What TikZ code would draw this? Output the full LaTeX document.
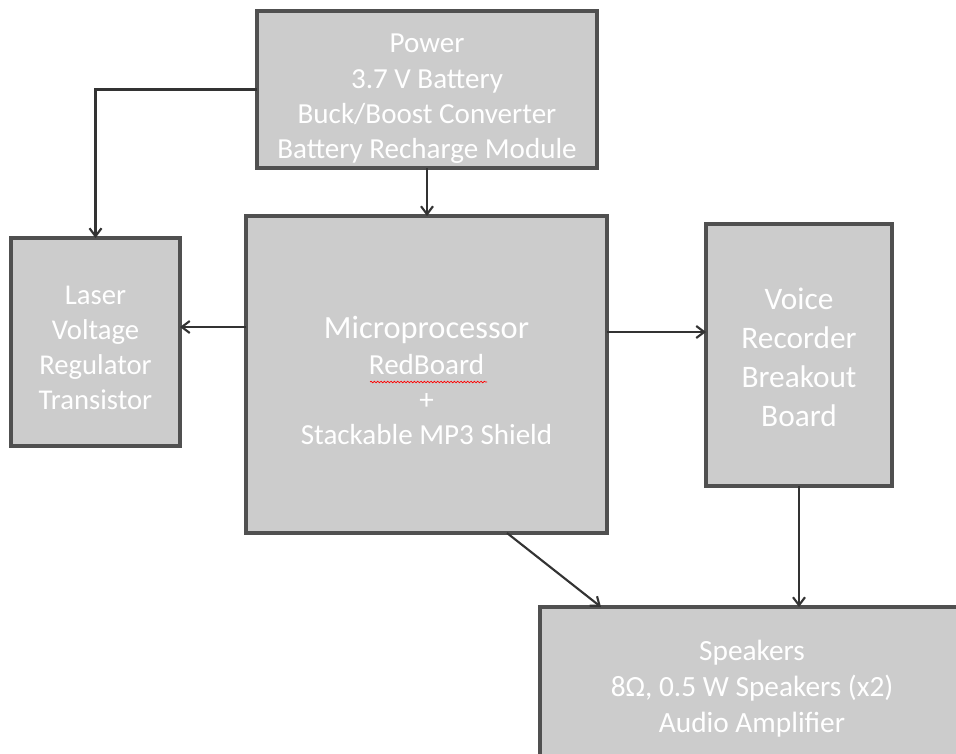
\documentclass[tikz,border=0pt]{standalone}
\usepackage{fontspec}
\setmainfont{Carlito}
\usetikzlibrary{arrows.meta,decorations.pathmorphing}
\definecolor{boxfill}{HTML}{CCCCCC}
\definecolor{boxline}{HTML}{505050}
\definecolor{wire}{HTML}{333333}
% invisible strut that lowers a block's text a little
\newcommand\topstrut[1]{\rule{0pt}{#1}}
\begin{document}
\begin{tikzpicture}[x=0.75pt,y=-0.75pt,
  block/.style={draw=boxline, fill=boxfill, line width=2.3pt, inner sep=0pt,
    outer sep=0pt, align=center, text=white},
  conn/.style={draw=wire, line width=1.6pt, -{Straight Barb[length=6pt,width=9pt,line width=1.6pt]}},
  txt/.style={font=\fontsize{21.8}{26.5}\selectfont},
  bigtxt/.style={font=\fontsize{23.5}{29.3}\selectfont}]
\clip (0,0) rectangle (956,753);
\useasboundingbox (0,0) rectangle (956,753);

\node[block, txt, minimum width=255pt, minimum height=117.75pt] (power) at (427,89.5)
  {\topstrut{28pt}Power\\3.7 V Battery\\Buck/Boost Converter\\Battery Recharge Module};
\node[block, txt, minimum width=270.75pt, minimum height=237.75pt] (micro) at (426.5,374.5)
  {\topstrut{26pt}{\fontsize{24.3}{26.5}\selectfont Microprocessor}\\RedBoard\\+\\Stackable MP3 Shield};
\node[block, font=\fontsize{21.5}{26.3}\selectfont, minimum width=126.75pt, minimum height=156pt] (laser) at (95.5,342)
  {\topstrut{23pt}Laser\\Voltage\\Regulator\\Transistor};
\node[block, bigtxt, minimum width=139.5pt, minimum height=196.5pt] (voice) at (799,355)
  {\topstrut{20pt}Voice\\Recorder\\Breakout\\Board};
\node[block, font=\fontsize{22}{27}\selectfont, minimum width=318pt, minimum height=118.5pt] (speakers) at (752,686)
  {\topstrut{20pt}Speakers\\8Ω, 0.5 W Speakers (x2)\\Audio Amplifier};

% spell-check squiggle under RedBoard
\draw[red, line width=0.5pt, decorate, decoration={snake, amplitude=0.6pt, segment length=2.5pt}]
  (370,382) -- (487,382);

% connectors
\coordinate (lrow) at (0,327);
\coordinate (rrow) at (0,332);
\coordinate (dstart) at (507,0);
\coordinate (dend) at (601,0);
\draw[conn] (power.west) -| (laser.north);
\draw[conn] (power.south) -- (power.south |- micro.north);
\draw[conn] (micro.west |- lrow) -- (laser.east |- lrow);
\draw[conn] (micro.east |- rrow) -- (voice.west |- rrow);
\draw[conn] (micro.south -| dstart) -- (speakers.north -| dend);
\draw[conn] (voice.south) -- (voice.south |- speakers.north);
\end{tikzpicture}
\end{document}
